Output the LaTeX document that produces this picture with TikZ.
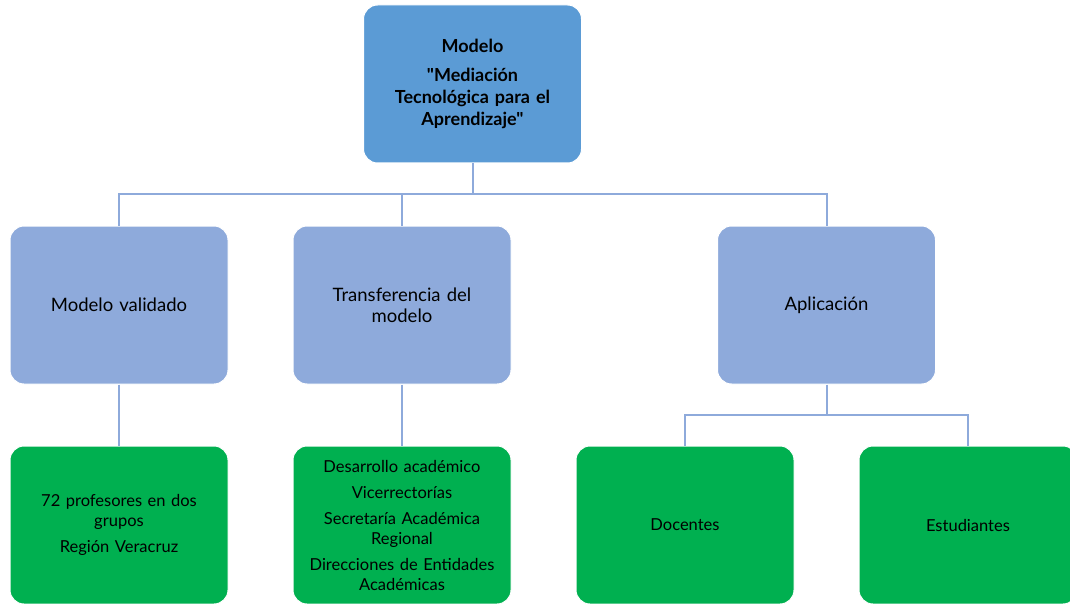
\documentclass[tikz,border=0pt]{standalone}
\usepackage{fontspec}
\setmainfont{Lato}[Ligatures=TeXOff]
\definecolor{azul}{HTML}{5B9BD5}
\definecolor{azulclaro}{HTML}{8EAADB}
\definecolor{verde}{HTML}{00B050}
\definecolor{linea}{HTML}{8EAADB}
\newcommand{\textonivel}{\fontsize{18.5}{21}\selectfont}
\newcommand{\textocaja}{\fontsize{16.5}{20}\selectfont}
\newcommand{\textotitulo}{\bfseries\fontsize{18}{22}\selectfont}

\begin{document}
\begin{tikzpicture}[x=1pt,y=-1pt]
                        \tikzstyle{caja}=[rounded corners=14pt, draw=white, line width=1pt, minimum width=218pt, minimum height=158pt, align=center, text width=205pt, inner sep=4pt]
                        \tikzstyle{nivel 1}=[caja, fill=azulclaro, font=\textonivel]
                        \tikzstyle{nivel 2}=[caja, fill=verde, font=\textocaja]
                        \tikzstyle{conector}=[draw=linea, line width=2pt]
                        \useasboundingbox (0,0) rectangle (1070,604);
                        \node[caja, fill=azul, font=\textotitulo] (modelo) at (472.5,84) {Modelo\\[7pt] "Mediación\\ Tecnológica para el\\ Aprendizaje"};
                        \node[nivel 1] (validado) at (119,305) {Modelo validado};
                        \node[nivel 1] (transfer) at (402,305) {Transferencia del\\ modelo};
                        \node[nivel 1] (aplic) at (826.5,305) {Aplicación};
                        \node[nivel 2] (profes) at (119,525) {72 profesores en dos\\ grupos\\[6pt] Región Veracruz};
                        \node[nivel 2] (desarrollo) at (402,525) {Desarrollo académico\\[6pt] Vicerrectorías\\[6pt] Secretaría Académica\\ Regional\\[6pt] Direcciones de Entidades\\ Académicas};
                        \node[nivel 2] (docentes) at (685,525) {Docentes};
                        \node[nivel 2] (estudiantes) at (968,525) {Estudiantes};
                        \draw[conector] (modelo.south) -- ++(0,31) coordinate (bus) -| (validado.north);
                        \draw[conector] (bus) -| (transfer.north);
                        \draw[conector] (bus) -| (aplic.north);
                        \draw[conector] (validado.south) -- (profes.north);
                        \draw[conector] (transfer.south) -- (desarrollo.north);
                        \draw[conector] (aplic.south) -- ++(0,30) coordinate (rama) -| (docentes.north);
                        \draw[conector] (rama) -| (estudiantes.north);
                    \end{tikzpicture}
\end{document}
